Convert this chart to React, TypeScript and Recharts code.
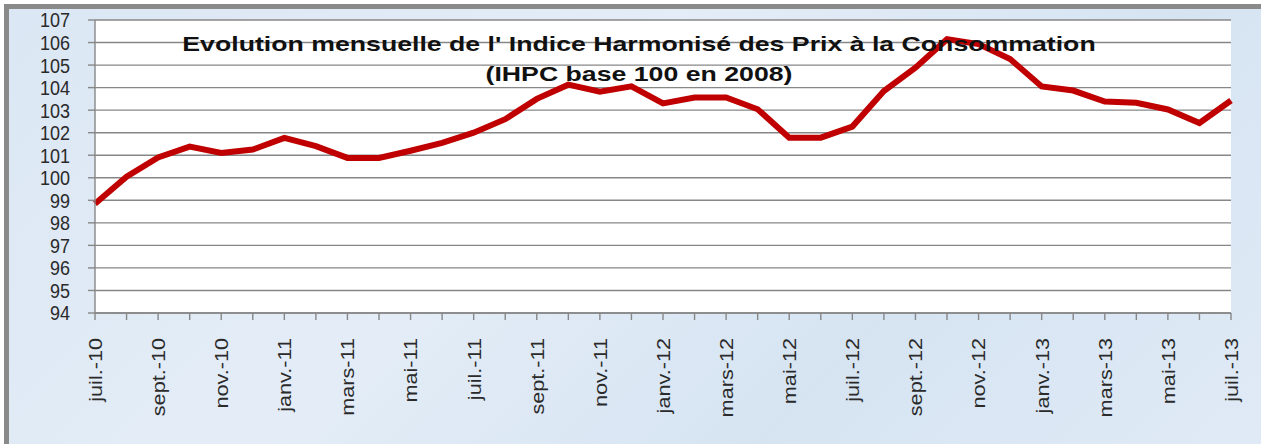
import React from "react";
import { LineChart, Line, XAxis, YAxis, CartesianGrid } from "recharts";

const months = [
  "juil.-10", "août-10", "sept.-10", "oct.-10", "nov.-10", "déc.-10",
  "janv.-11", "févr.-11", "mars-11", "avr.-11", "mai-11", "juin-11",
  "juil.-11", "août-11", "sept.-11", "oct.-11", "nov.-11", "déc.-11",
  "janv.-12", "févr.-12", "mars-12", "avr.-12", "mai-12", "juin-12",
  "juil.-12", "août-12", "sept.-12", "oct.-12", "nov.-12", "déc.-12",
  "janv.-13", "févr.-13", "mars-13", "avr.-13", "mai-13", "juin-13",
  "juil.-13",
];

const ihpc = [
  98.85, 100.05, 100.9, 101.38, 101.1, 101.25,
  101.77, 101.4, 100.88, 100.88, 101.2, 101.55,
  102.0, 102.6, 103.5, 104.13, 103.82, 104.06,
  103.3, 103.56, 103.56, 103.04, 101.78, 101.78,
  102.27, 103.85, 104.88, 106.15, 105.93, 105.27,
  104.05, 103.87, 103.38, 103.33, 103.03, 102.43,
  103.43,
];

const yTicks = [94, 95, 96, 97, 98, 99, 100, 101, 102, 103, 104, 105, 106, 107];

const titleLine1 = "Evolution mensuelle de l' Indice Harmonisé des Prix à la Consommation";
const titleLine2 = "(IHPC base 100 en 2008)";

const data = months.map((m, i) => ({ month: m, value: ihpc[i] }));

const FONT = "'Liberation Sans', Arial, sans-serif";

const XTick = (props: any) => {
  const { x, y, payload, index } = props;
  if (index % 2 !== 0) return <g />;
  return (
    <g transform={`translate(${x},${y + 16}) rotate(-90) scale(1.14,1)`}>
      <text
        x={0}
        y={0}
        dy="0.36em"
        textAnchor="end"
        fontSize={19}
        fill="#2a2a2a"
        fontFamily={FONT}
      >
        {payload.value}
      </text>
    </g>
  );
};

const YTick = (props: any) => {
  const { x, y, payload } = props;
  return (
    <g transform={`translate(${x},${y}) scale(1,1.15)`}>
      <text
        x={0}
        y={0}
        dy="0.36em"
        textAnchor="end"
        fontSize={18}
        fill="#2a2a2a"
        fontFamily={FONT}
      >
        {payload.value}
      </text>
    </g>
  );
};

export default function App() {
  return (
    <div
      style={{
        position: "fixed",
        left: 0,
        top: 0,
        width: 1261,
        height: 444,
        background: "#ffffff",
        overflow: "hidden",
      }}
    >
      <div
        style={{
          position: "absolute",
          left: 4,
          top: 4,
          width: 1257,
          height: 440,
          background: "linear-gradient(135deg, #dbe7f4 0%, #e4edf7 40%, #d6e4f2 70%, #e0eaf6 100%)",
          borderTop: "5px solid #8a8a8a",
          borderLeft: "5px solid #8a8a8a",
          boxSizing: "border-box",
        }}
      />
      <div style={{ position: "absolute", left: 0, top: 0 }}>
        <LineChart
          width={1261}
          height={444}
          data={data}
          margin={{ top: 20, right: 30, left: 0, bottom: 31 }}
        >
          <CartesianGrid
            vertical={false}
            stroke="#878787"
            strokeWidth={1.4}
            fill="#ffffff"
          />
          <XAxis
            dataKey="month"
            interval={0}
            tick={<XTick />}
            tickSize={7}
            stroke="#878787"
            strokeWidth={1.4}
            height={100}
          />
          <YAxis
            domain={[94, 107]}
            ticks={yTicks}
            interval={0}
            width={95}
            tickSize={7}
            tickMargin={18}
            stroke="#878787"
            strokeWidth={1.4}
            tick={<YTick />}
          />
          <Line
            type="linear"
            dataKey="value"
            stroke="#c00000"
            strokeWidth={6}
            dot={false}
            isAnimationActive={false}
          />
        </LineChart>
      </div>
      <div
        style={{
          position: "absolute",
          left: 0,
          width: 1278,
          top: 29,
          textAlign: "center",
          fontFamily: FONT,
          fontWeight: "bold",
          fontSize: 21,
          lineHeight: "30px",
          color: "#111",
          pointerEvents: "none",
          transform: "scaleX(1.27)",
          transformOrigin: "639px 0px",
        }}
      >
        <div>{titleLine1}</div>
        <div>{titleLine2}</div>
      </div>
    </div>
  );
}
